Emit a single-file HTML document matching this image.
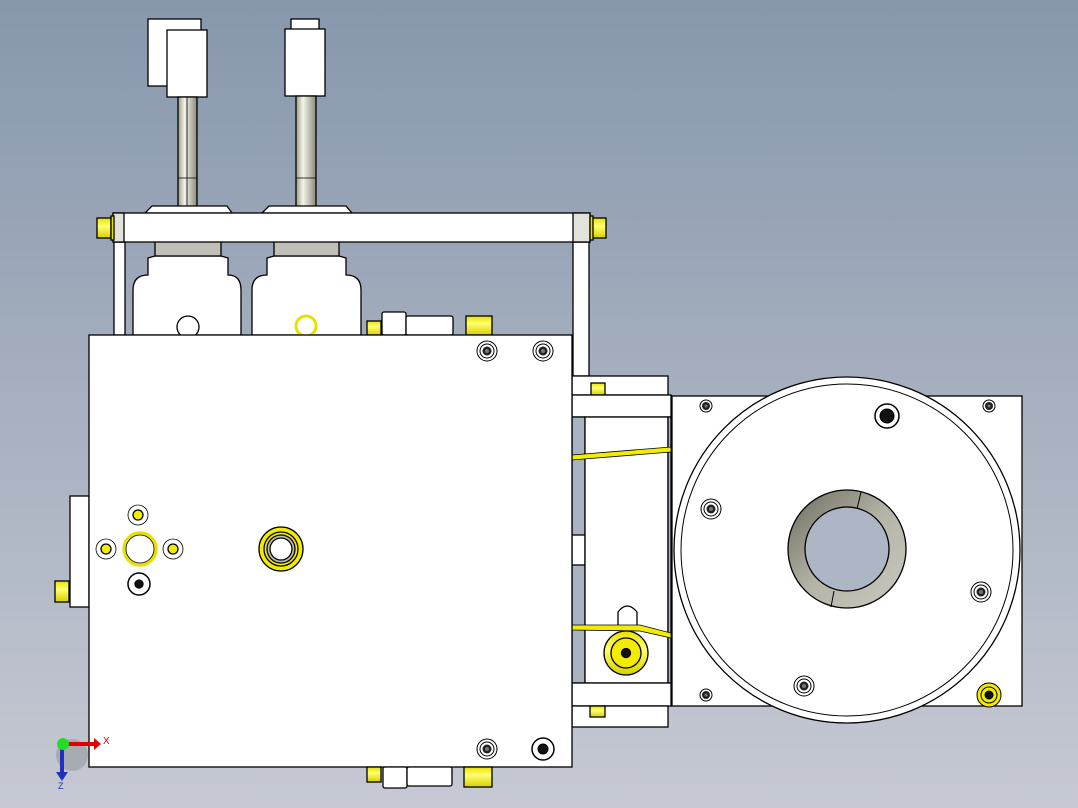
<!DOCTYPE html>
<html><head><meta charset="utf-8"><style>
html,body{margin:0;padding:0;width:1078px;height:808px;overflow:hidden}
svg{display:block}
</style></head><body>
<svg width="1078" height="808" viewBox="0 0 1078 808" xmlns="http://www.w3.org/2000/svg" font-family="Liberation Sans, sans-serif">
<defs>
<linearGradient id="bg" x1="0" y1="0" x2="0" y2="1">
<stop offset="0" stop-color="#8797ac"/><stop offset="1" stop-color="#c6c9d3"/></linearGradient>
<linearGradient id="rod" x1="0" y1="0" x2="1" y2="0">
<stop offset="0" stop-color="#9a9a88"/><stop offset="0.35" stop-color="#f4f4ea"/><stop offset="1" stop-color="#8a8a7a"/></linearGradient>
<linearGradient id="yel" x1="0" y1="0" x2="0" y2="1">
<stop offset="0" stop-color="#e8e000"/><stop offset="0.4" stop-color="#ffff70"/><stop offset="1" stop-color="#d8d000"/></linearGradient>
<linearGradient id="hub" x1="0" y1="0" x2="1" y2="1">
<stop offset="0" stop-color="#6a6a5e"/><stop offset="0.5" stop-color="#b4b4a6"/><stop offset="1" stop-color="#c8c8c0"/></linearGradient>
<g id="scr"><circle r="10" fill="#fff" stroke="#000"/><circle r="7" fill="#fff" stroke="#000"/><circle r="4.5" fill="#222"/><circle r="2" fill="#777"/></g>
<g id="scrs"><circle r="6" fill="#fff" stroke="#000"/><circle r="4" fill="#222"/><circle r="1.5" fill="#777"/></g>
</defs>
<rect width="1078" height="808" fill="url(#bg)"/>
<g stroke="#000" stroke-width="1.3">
<!-- sensors -->
<rect x="148" y="19" width="53" height="67" fill="#fff"/>
<rect x="167" y="30" width="40" height="67" fill="#fff"/>
<rect x="178" y="97" width="19" height="143" fill="url(#rod)"/>
<line x1="187" y1="97" x2="187" y2="240" stroke-width="0.8"/>
<line x1="178" y1="178" x2="197" y2="178" stroke-width="0.8"/>
<rect x="291" y="19" width="28" height="11" fill="#fff"/>
<rect x="285" y="29" width="40" height="67" fill="#fff"/>
<rect x="296" y="96" width="20" height="144" fill="url(#rod)"/>
<line x1="296" y1="178" x2="316" y2="178" stroke-width="0.8"/>
<!-- chamfer tabs -->
<path d="M145 213 L152 206 L227 206 L232 213 Z" fill="#fff"/>
<path d="M262 213 L269 206 L346 206 L352 213 Z" fill="#fff"/>
<!-- cylinder blocks -->
<path d="M133 335 L133 290 Q133 275 148 275 L148 258 L155 256 L221 256 L228 258 L228 275 Q241 275 241 290 L241 335 Z" fill="#fff"/>
<path d="M252 335 L252 290 Q252 275 267 275 L267 258 L274 256 L339 256 L346 258 L346 275 Q361 275 361 290 L361 335 Z" fill="#fff"/>
<rect x="155" y="237" width="66" height="19" fill="#bfbfb8"/>
<rect x="274" y="237" width="65" height="19" fill="#bfbfb8"/>
<circle cx="188" cy="327" r="11" fill="#fff"/>
<circle cx="306" cy="326" r="10" fill="#fff" stroke="#e8e000" stroke-width="3"/>
<!-- posts and bar -->
<rect x="114" y="242" width="11" height="93" fill="#fff"/>
<rect x="573" y="242" width="16" height="134" fill="#fff"/>
<rect x="113" y="213" width="477" height="29" fill="#fff"/>
<rect x="113" y="213" width="11" height="29" fill="#e2e2dc"/>
<rect x="573" y="213" width="17" height="29" fill="#e2e2dc"/>
<rect x="97" y="218" width="14" height="20" fill="url(#yel)"/>
<rect x="111" y="216" width="3" height="24" fill="#e8e000"/>
<rect x="592" y="218" width="14" height="20" fill="url(#yel)"/>
<rect x="590" y="216" width="3" height="24" fill="#e8e000"/>
<!-- top connectors -->
<rect x="367" y="321" width="14" height="14" fill="url(#yel)"/>
<rect x="382" y="312" width="24" height="23" fill="#fff" rx="2"/>
<rect x="406" y="316" width="47" height="19" fill="#fff" rx="2"/>
<rect x="466" y="316" width="26" height="19" fill="url(#yel)"/>
<!-- bracket -->
<rect x="572" y="376" width="96" height="19" fill="#fff"/>
<rect x="591" y="383" width="14" height="12" fill="url(#yel)"/>
<rect x="572" y="395" width="99" height="22" fill="#fff"/>
<rect x="572" y="417" width="13" height="266" fill="#aab3c2"/>
<rect x="572" y="535" width="13" height="30" fill="#fff"/>
<rect x="585" y="417" width="83" height="266" fill="#fff"/>
<rect x="668" y="417" width="3" height="266" fill="#aab3c2"/>
<path d="M572 455 L671 447 L671 452 L572 460 Z" fill="#f4ec00" stroke-width="0.8"/>
<path d="M618 627 L618 612 Q627 600 637 612 L637 627 Z" fill="#fff"/>
<path d="M572 625 L640 625 L671 633 L671 638 L640 631 L572 630 Z" fill="#f4ec00" stroke-width="0.8"/>
<circle cx="626" cy="653" r="22" fill="url(#yel)"/>
<circle cx="626" cy="653" r="15" fill="#f4ec00"/>
<circle cx="626" cy="653" r="4.5" fill="#111"/>
<rect x="572" y="683" width="99" height="23" fill="#fff"/>
<rect x="572" y="706" width="96" height="21" fill="#fff"/>
<rect x="590" y="706" width="15" height="11" fill="url(#yel)"/>
<!-- rotary table -->
<rect x="672" y="396" width="350" height="310" fill="#fff"/>
<circle cx="847" cy="550" r="173" fill="#fff"/>
<circle cx="847" cy="550" r="166" fill="none" stroke-width="1"/>
<circle cx="847" cy="549" r="59" fill="url(#hub)"/>
<circle cx="847" cy="549" r="42" fill="#adb6c5"/>
<line x1="861" y1="492" x2="857" y2="509" stroke-width="1"/>
<line x1="834" y1="591" x2="831" y2="607" stroke-width="1"/>
</g>
<use href="#scrs" x="706" y="406"/><use href="#scrs" x="989" y="406"/><use href="#scrs" x="706" y="695"/>
<use href="#scr" x="711" y="509"/><use href="#scr" x="981" y="592"/><use href="#scr" x="804" y="686"/>
<g stroke="#000"><circle cx="887" cy="416" r="12" fill="#fff" stroke-width="1.5"/><circle cx="887" cy="416" r="7" fill="#111"/>
<circle cx="989" cy="695" r="12" fill="#f4ec00"/><circle cx="989" cy="695" r="8" fill="#f4ec00"/><circle cx="989" cy="695" r="4" fill="#111"/></g>
<!-- main plate -->
<g stroke="#000" stroke-width="1.3">
<rect x="70" y="496" width="19" height="111" fill="#fff"/>
<rect x="55" y="581" width="14" height="21" fill="url(#yel)"/>
<rect x="89" y="335" width="483" height="432" fill="#fff"/>
<!-- left features -->
<circle cx="138" cy="515" r="10" fill="#fff" stroke-width="0.8"/><circle cx="138" cy="515" r="5" fill="#f4ec00"/>
<circle cx="106" cy="549" r="10" fill="#fff" stroke-width="0.8"/><circle cx="106" cy="549" r="5" fill="#f4ec00"/>
<circle cx="173" cy="549" r="10" fill="#fff" stroke-width="0.8"/><circle cx="173" cy="549" r="5" fill="#f4ec00"/>
<circle cx="140" cy="549" r="16" fill="#fff" stroke="#e8e000" stroke-width="3.5"/>
<circle cx="140" cy="549" r="14" fill="none" stroke-width="0.8"/>
<circle cx="139" cy="584" r="11" fill="#fff" stroke-width="1.5"/><circle cx="139" cy="584" r="4" fill="#111"/>
<circle cx="281" cy="549" r="22" fill="#f4ec00"/><circle cx="281" cy="549" r="17" fill="#f4ec00"/>
<circle cx="281" cy="549" r="14" fill="#bdbdb6"/><circle cx="281" cy="549" r="11" fill="#fff"/>
<!-- bottom connectors -->
<rect x="367" y="767" width="14" height="15" fill="url(#yel)"/>
<rect x="383" y="767" width="24" height="21" fill="#fff" rx="2"/>
<rect x="407" y="767" width="45" height="19" fill="#fff" rx="2"/>
<rect x="464" y="767" width="28" height="20" fill="url(#yel)"/>
</g>
<use href="#scr" x="487" y="351"/><use href="#scr" x="543" y="351"/><use href="#scr" x="487" y="749"/>
<g stroke="#000"><circle cx="543" cy="749" r="11" fill="#fff" stroke-width="1.5"/><circle cx="543" cy="749" r="5" fill="#111"/></g>
<!-- axis triad -->
<circle cx="72" cy="755" r="16" fill="#777" opacity="0.35"/>
<rect x="61" y="742" width="34" height="4" fill="#e00000"/>
<path d="M94 738 L101 744 L94 750 Z" fill="#e00000"/>
<rect x="60" y="744" width="4" height="30" fill="#2030c0"/>
<path d="M56 772 L62 781 L68 772 Z" fill="#2030c0"/>
<circle cx="63" cy="744" r="6" fill="#22dd22"/>
<text x="103" y="744" font-size="10" fill="#e00000">X</text>
<text x="58" y="789" font-size="9" fill="#2030c0">Z</text>
</svg>
</body></html>
